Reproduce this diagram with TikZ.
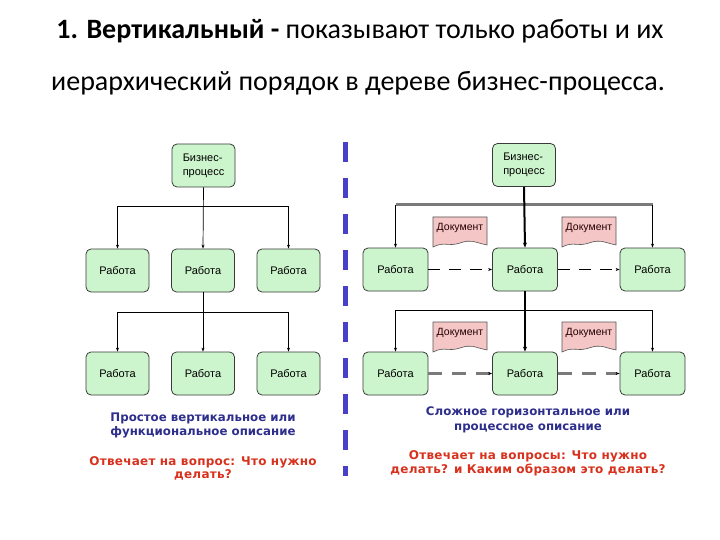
\documentclass[tikz,border=0pt]{standalone}
\usepackage{fontspec}
\setmainfont{Carlito}
\newfontfamily\boxfont{Liberation Sans}
\newfontfamily\capfont{DejaVu Sans}
\newfontfamily\capfontw[LetterSpace=2]{DejaVu Sans}
\usetikzlibrary{arrows.meta}
\definecolor{boxfill}{HTML}{CDF5CD}
\definecolor{boxline}{HTML}{3A3A3A}
\definecolor{docfill}{HTML}{F5C6C6}
\definecolor{docline}{HTML}{555555}
\definecolor{capblue}{HTML}{2E2E8C}
\definecolor{capred}{HTML}{D8321E}
\definecolor{sepblue}{HTML}{4A40C8}
\definecolor{busgray}{HTML}{7A7A7A}
\tikzset{
  x=1pt, y=-1pt,
  wbox/.style={draw=boxline, line width=0.8pt, fill=boxfill, rounded corners=5pt,
    minimum width=63pt, minimum height=43pt, inner sep=1pt, font=\boxfont\fontsize{11}{14}\selectfont},
  wboxr/.style={wbox, minimum width=65pt},
  conn/.style={draw=black, line width=0.7pt},
  arr/.style={conn, -{Stealth[length=4pt,width=3pt]}},
  thickarr/.style={draw=black, line width=2pt, -{Stealth[length=5pt,width=4pt]}},
  dasharr/.style={draw=black, line width=0.7pt, dash pattern=on 12pt off 9pt, -{Stealth[length=4pt,width=3pt]}},
  gdasharr/.style={draw=busgray, line width=2.5pt, dash pattern=on 14pt off 10pt, -{Stealth[length=4pt,width=3pt,black]}},
  docshape/.style={draw=docline, line width=0.6pt, fill=docfill},
  doctext/.style={font=\boxfont\fontsize{10.5}{12}\selectfont, text=black!85!red},
  bluecap/.style={font=\capfont\bfseries\fontsize{11.8}{14.5}\selectfont, text=capblue, align=center},
  redcap/.style={font=\capfontw\bfseries\fontsize{12}{13.5}\selectfont, text=capred, align=center},
  titletext/.style={font=\fontsize{28}{32}\selectfont, anchor=base},
}
\begin{document}
\begin{tikzpicture}
\useasboundingbox (0,0) rectangle (720,540);
\fill[white] (0,0) rectangle (720,540);

% title
\node[titletext] (t1) at (360,39) {\textbf{1. Вертикальный -} показывают только работы и их};
\node[titletext] (t2) at (358,91) {иерархический порядок в дереве бизнес-процесса.};

% separator
\draw[sepblue, line width=5pt, dash pattern=on 20pt off 16pt] (345,142) -- (345,476);

% ---------- left tree ----------
\node[wbox, align=left] (L0) at (203.5,165.5) {Бизнес-\\процесс};
\node[wbox] (L11) at (117.5,270.5) {Работа};
\node[wbox] (L12) at (203,270.5) {Работа};
\node[wbox] (L13) at (288.5,270.5) {Работа};
\node[wbox] (L21) at (117.5,373.5) {Работа};
\node[wbox] (L22) at (203,373.5) {Работа};
\node[wbox] (L23) at (288.5,373.5) {Работа};

\coordinate (lb1) at (203,206);
\coordinate (lb2) at (203,312);
\draw[arr] (L0.south) -- (L12.north);
\draw[arr] (lb1) -| (L11.north);
\draw[arr] (lb1) -| (L13.north);
\draw[arr] (L12.south) -- (L22.north);
\draw[arr] (lb2) -| (L21.north);
\draw[arr] (lb2) -| (L23.north);

\node[bluecap] (lc1) at (203,425.5) {Простое вертикальное или\\функциональное описание};
\node[redcap] (lc2) at (203,468.5) {Отвечает на вопрос: Что нужно\\делать?};

% ---------- right tree ----------
\node[wbox, align=left] (R0) at (524,165) {Бизнес-\\процесс};
\node[wboxr] (R11) at (395.5,269.5) {Работа};
\node[wboxr] (R12) at (525,269.5) {Работа};
\node[wboxr] (R13) at (652.5,269.5) {Работа};
\node[wboxr] (R21) at (395.5,373.5) {Работа};
\node[wboxr] (R22) at (525,373.5) {Работа};
\node[wboxr] (R23) at (652.5,373.5) {Работа};

\coordinate (rb1l) at (395.5,205);
\coordinate (rb1r) at (652.5,205);
\coordinate (rb2l) at (395.5,310);
\coordinate (rb2r) at (652.5,310);
\draw[busgray, line width=3pt] (rb1l) -- (rb1r);
\draw[arr] (rb1l) -- (R11.north);
\draw[arr] (rb1r) -- (R13.north);
\draw[conn] (rb2l) -- (rb2r);
\draw[arr] (rb2l) -- (R21.north);
\draw[arr] (rb2r) -- (R23.north);
\draw[thickarr] (R0.south) -- (R12.north);
\draw[thickarr] (R12.south) -- (R22.north);

% documents
\foreach \n/\xa/\ya in {d1/433/217, d2/562/217, d3/433/322, d4/562/322}{
  \path[docshape] (\xa,\ya) -- ++(54,0) -- ++(0,28)
     .. controls ++(-14,-3) and ++(12,-4) .. ++(-27,-2)
     .. controls ++(-12,4) and ++(12,-6) .. ++(-27,4) -- cycle;
  \node[doctext] (\n) at ([xshift=27pt,yshift=-11pt]\xa,\ya) {Документ};
}

\draw[dasharr] (R11.east) -- (R12.west);
\draw[dasharr] (R12.east) -- (R13.west);
\draw[gdasharr] (R21.east) -- (R22.west);
\draw[gdasharr] (R22.east) -- (R23.west);

\node[bluecap] (rc1) at (528,420) {Сложное горизонтальное или\\процессное описание};
\node[redcap] (rc2) at (528,463.5) {Отвечает на вопросы: Что нужно\\делать? и Каким образом это делать?};
\end{tikzpicture}
\end{document}
